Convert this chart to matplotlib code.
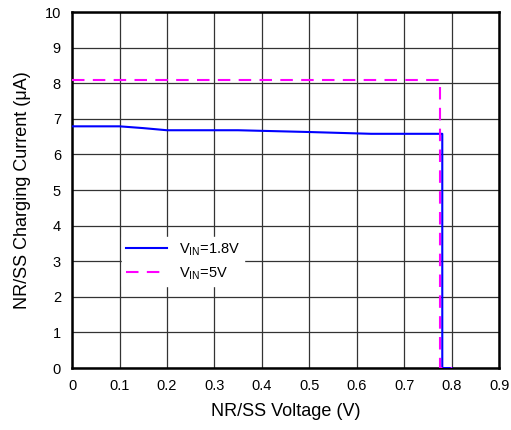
import matplotlib
matplotlib.use("Agg")
import matplotlib.pyplot as plt

plt.rcParams['font.family'] = ['Liberation Sans', 'DejaVu Sans']

# Data
v_blue = [0.0, 0.1, 0.15, 0.2, 0.35, 0.5, 0.63, 0.78, 0.78, 0.80]
i_blue = [6.79, 6.79, 6.74, 6.68, 6.68, 6.63, 6.58, 6.58, 0.0, 0.0]
v_mag = [0.0, 0.776, 0.776, 0.80]
i_mag = [8.08, 8.08, 0.0, 0.0]

xticks = [0, 0.1, 0.2, 0.3, 0.4, 0.5, 0.6, 0.7, 0.8, 0.9]
xtick_labels = ['0', '0.1', '0.2', '0.3', '0.4', '0.5', '0.6', '0.7', '0.8', '0.9']
yticks = list(range(0, 11))

fig = plt.figure(figsize=(5.11, 4.30), dpi=100)
ax = fig.add_axes([0.141, 0.144, 0.836, 0.828])

ax.plot(v_blue, i_blue, color='#0000ff', lw=1.5, label=r'V$_{\mathregular{IN}}$=1.8V', zorder=3)
ax.plot(v_mag, i_mag, color='#ff00ff', lw=1.5, ls=(0, (6, 4)), label=r'V$_{\mathregular{IN}}$=5V', zorder=3)

ax.set_xlim(0, 0.9)
ax.set_ylim(0, 10)
ax.set_xticks(xticks)
ax.set_xticklabels(xtick_labels)
ax.set_yticks(yticks)
ax.grid(True, color='#333333', lw=0.9)
ax.tick_params(length=0, labelsize=10.5, pad=8)
for s in ax.spines.values():
    s.set_linewidth(1.8)
    s.set_color('black')

ax.set_xlabel('NR/SS Voltage (V)', fontsize=13, labelpad=7)
ax.set_ylabel('NR/SS Charging Current (\u03bcA)', fontsize=13, labelpad=10)

leg = ax.legend(loc='lower left', bbox_to_anchor=(0.10, 0.21), frameon=True,
                fancybox=False, framealpha=1, edgecolor='white', fontsize=10.5,
                handlelength=2.8, borderpad=0.3, labelspacing=0.5)

fig.savefig('out.png', dpi=100)
